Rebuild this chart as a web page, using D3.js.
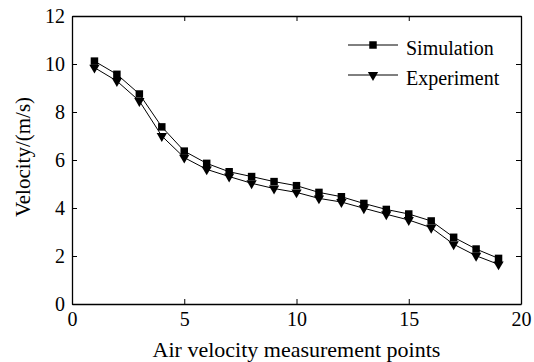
<!DOCTYPE html>
<html lang="en">
<head>
<meta charset="UTF-8">
<script src="https://cdnjs.cloudflare.com/ajax/libs/d3/7.8.5/d3.min.js"></script>
<style>
  * { margin: 0; padding: 0; }
  svg text { font-family: "Liberation Serif", serif; }
</style>
</head>
<body>
<div id="chart"></div>
<script>
  // data
  const points = [1, 2, 3, 4, 5, 6, 7, 8, 9, 10, 11, 12, 13, 14, 15, 16, 17, 18, 19]
  const simulation = [10.12, 9.57, 8.75, 7.38, 6.37, 5.86, 5.51, 5.31, 5.10, 4.93, 4.65, 4.47, 4.19, 3.94, 3.75, 3.46, 2.78, 2.29, 1.90]
  const experiment = [9.85, 9.29, 8.46, 7.00, 6.10, 5.61, 5.31, 5.03, 4.81, 4.65, 4.40, 4.25, 3.99, 3.74, 3.50, 3.18, 2.49, 2.01, 1.65]
  const xTicks = [0, 5, 10, 15, 20]
  const yTicks = [0, 2, 4, 6, 8, 10, 12]

  const W = 534, H = 362
  const m = { left: 72, right: 13, top: 16, bottom: 58 }
  const FONT = 'Liberation Serif'

  const svg = d3.select('#chart').append('svg')
    .attr('width', W).attr('height', H)
    .attr('font-family', FONT)

  const x = d3.scaleLinear().domain([0, 20]).range([m.left, W - m.right])
  const y = d3.scaleLinear().domain([0, 12]).range([H - m.bottom, m.top])

  const tick = 5
  // axes: ticks point inward, mirrored on top/right
  const axisBottom = d3.axisBottom(x).tickValues(xTicks).tickSizeInner(-tick).tickSizeOuter(0).tickPadding(8)
  const axisLeft = d3.axisLeft(y).tickValues(yTicks).tickSizeInner(-tick).tickSizeOuter(0).tickPadding(7)
  const axisTop = d3.axisTop(x).tickValues(xTicks).tickSizeInner(-tick).tickSizeOuter(0).tickFormat('')
  const axisRight = d3.axisRight(y).tickValues(yTicks).tickSizeInner(-tick).tickSizeOuter(0).tickFormat('')

  const styleAxis = g => {
    g.attr('font-family', FONT).attr('font-size', 20)
    g.select('.domain').attr('stroke', '#000').attr('stroke-width', 1.3)
    g.selectAll('.tick line').attr('stroke', '#000')
    g.selectAll('.tick text').attr('fill', '#000')
  }

  svg.append('g').attr('transform', `translate(0,${y(0)})`).call(axisBottom).call(styleAxis)
  svg.append('g').attr('transform', `translate(${x(0)},0)`).call(axisLeft).call(styleAxis)
  svg.append('g').attr('transform', `translate(0,${y(12)})`).call(axisTop).call(styleAxis)
  svg.append('g').attr('transform', `translate(${x(20)},0)`).call(axisRight).call(styleAxis)

  const line = d3.line().x(d => x(d[0])).y(d => y(d[1]))
  const series = [
    { name: 'Simulation', values: simulation, sym: d3.symbolSquare, size: 56 },
    { name: 'Experiment', values: experiment, sym: d3.symbolTriangle, size: 46 }
  ]

  series.forEach((s, k) => {
    const pts = points.map((p, i) => [p, s.values[i]])
    svg.append('path')
      .attr('d', line(pts))
      .attr('fill', 'none')
      .attr('stroke', '#000')
      .attr('stroke-width', 1)
    svg.append('g').selectAll('path').data(pts).join('path')
      .attr('d', d3.symbol().type(s.sym).size(s.size))
      .attr('transform', d => `translate(${x(d[0])},${y(d[1])})` + (k === 1 ? ' rotate(180)' : ''))
      .attr('fill', '#000')
  })

  // legend
  const lg = svg.append('g')
  series.forEach((s, k) => {
    const ly = 45 + k * 30
    lg.append('line')
      .attr('x1', 348).attr('x2', 398).attr('y1', ly).attr('y2', ly)
      .attr('stroke', '#000').attr('stroke-width', 1)
    lg.append('path')
      .attr('d', d3.symbol().type(s.sym).size(s.size))
      .attr('transform', `translate(373,${ly})` + (k === 1 ? ' rotate(180)' : ''))
      .attr('fill', '#000')
    lg.append('text')
      .attr('x', 406).attr('y', ly + 10)
      .attr('font-family', FONT).attr('font-size', 20)
      .text(s.name)
  })

  // axis titles
  svg.append('text')
    .attr('x', (x(0) + x(20)) / 2).attr('y', 357)
    .attr('text-anchor', 'middle')
    .attr('font-family', FONT).attr('font-size', 22)
    .text('Air velocity measurement points')

  svg.append('text')
    .attr('transform', `translate(30,${(y(0) + y(12)) / 2 - 3}) rotate(-90)`)
    .attr('text-anchor', 'middle')
    .attr('font-family', FONT).attr('font-size', 21)
    .text('Velocity/(m/s)')
</script>
</body>
</html>
